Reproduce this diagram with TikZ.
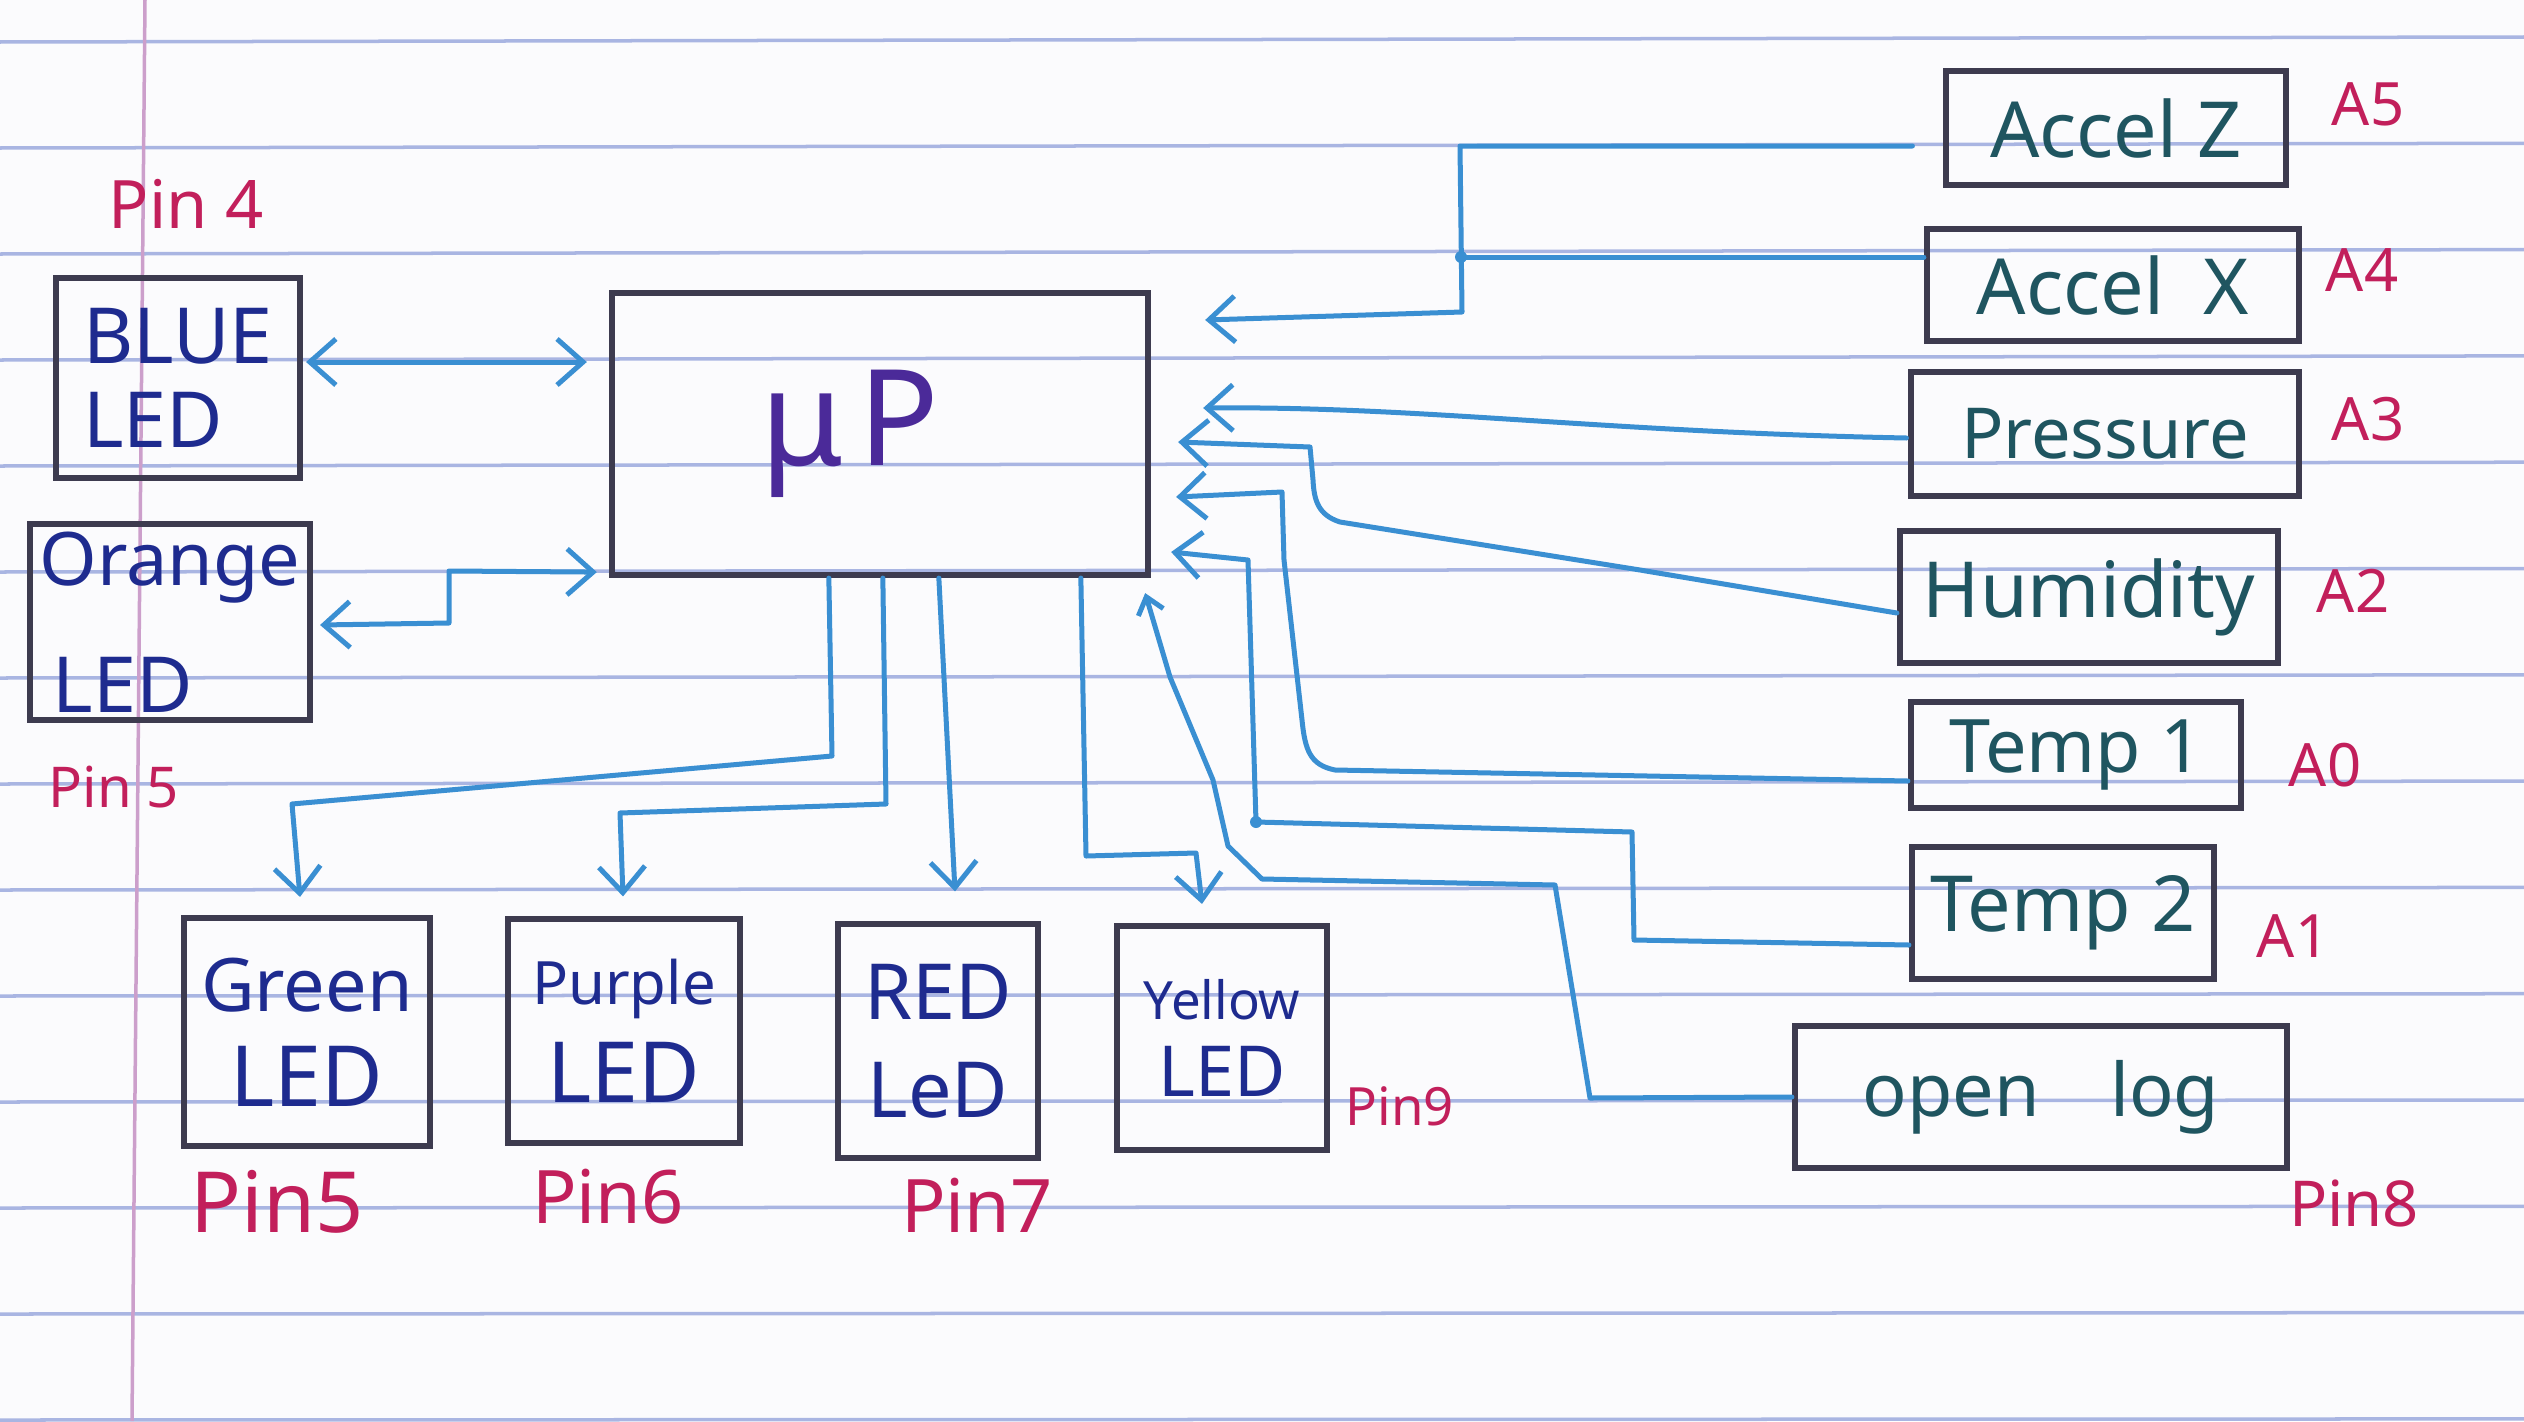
\documentclass[tikz,border=0pt]{standalone}
\usepackage{fontspec}
\setmainfont{Noto Sans}
\usetikzlibrary{arrows.meta,calc}
\definecolor{paperc}{HTML}{FBFBFD}
\definecolor{rulec}{HTML}{A9B5E2}
\definecolor{marginc}{HTML}{CC9FCB}
\definecolor{boxc}{HTML}{3D3B4F}
\definecolor{wirec}{HTML}{3A8FD2}
\definecolor{navyc}{HTML}{1E2B8F}
\definecolor{sensc}{HTML}{1F5560}
\definecolor{upc}{HTML}{4B2A99}
\definecolor{pinc}{HTML}{C21F5B}
\begin{document}
\begin{tikzpicture}[x=0.01cm,y=-0.01cm,
  box/.style={draw=boxc,line width=0.06cm,inner sep=0pt,align=center},
  led/.style={box,text=navyc},
  sens/.style={box,text=sensc,font=\fontsize{22}{26}\selectfont},
  wire/.style={draw=wirec,line width=0.05cm,line join=round,line cap=round},
  fwd/.style={-{Straight Barb[length=0.26cm,width=0.46cm]}},
  fwdsmall/.style={-{Straight Barb[length=0.16cm,width=0.26cm]}},
  both/.style={{Straight Barb[length=0.26cm,width=0.46cm]}-{Straight Barb[length=0.26cm,width=0.46cm]}},
  pinlbl/.style={text=pinc,inner sep=0pt},
  alab/.style={pinlbl,font=\fontsize{17}{20}\selectfont},
  rulel/.style={draw=rulec,line width=0.035cm},
  jdot/.style={fill=wirec}]
\useasboundingbox (0,0) rectangle (2524,1421);
\fill[paperc] (0,0) rectangle (2524,1421);
% ruled paper
\foreach \k in {0,...,13} \draw[rulel] (0,{42+106*\k}) -- (2524,{37+106.3*\k});
\draw[draw=marginc,line width=0.035cm] (145,0) -- (132,1421);

% boxes
\node[led,minimum width=2.44cm,minimum height=2.0cm,align=left,font=\fontsize{22}{24}\selectfont] (blue) at (178,378) {BLUE\\LED};
\node[led,minimum width=2.80cm,minimum height=1.96cm,align=left,font=\fontsize{21}{36}\selectfont] (orange) at (170,622) {Orange\\{\fontsize{22}{26}\selectfont\,LED}};
\node[box,minimum width=5.36cm,minimum height=2.82cm,text=upc,font=\fontsize{38}{44}\selectfont] (mcu) at (880,434) {μ\hspace{0.15cm}P\hspace{0.6cm}};
\node[led,minimum width=2.45cm,minimum height=2.28cm,font=\fontsize{21}{27}\selectfont] (green) at (307,1032) {Green\\{\fontsize{24}{27}\selectfont LED}};
\node[led,minimum width=2.32cm,minimum height=2.23cm,font=\fontsize{17}{28}\selectfont] (purple) at (624,1031) {Purple\\{\fontsize{24}{28}\selectfont LED}};
\node[led,minimum width=2.00cm,minimum height=2.33cm,font=\fontsize{22}{28}\selectfont] (red) at (938,1041) {RED\\LeD};
\node[led,minimum width=2.10cm,minimum height=2.24cm,font=\fontsize{15}{22}\selectfont] (yellow) at (1222,1038) {Yellow\\{\fontsize{20}{22}\selectfont LED}};

\node[sens,minimum width=3.39cm,minimum height=1.13cm] (accz) at (2116,128) {Accel Z};
\node[sens,minimum width=3.72cm,minimum height=1.12cm] (accx) at (2113,285) {Accel\hspace{0.4cm}X};
\node[sens,minimum width=3.87cm,minimum height=1.23cm,font=\fontsize{20}{24}\selectfont] (press) at (2105,434) {Pressure};
\node[sens,minimum width=3.78cm,minimum height=1.32cm] (hum) at (2089,597) {Humidity};
\node[sens,minimum width=3.30cm,minimum height=1.05cm,font=\fontsize{21}{24}\selectfont] (t1) at (2076,755) {Temp 1};
\node[sens,minimum width=3.02cm,minimum height=1.31cm] (t2) at (2063,913) {Temp 2};
\node[sens,minimum width=4.92cm,minimum height=1.41cm,font=\fontsize{21}{24}\selectfont] (ol) at (2041,1097) {open\hspace{0.7cm}log};

% pin labels
\node[pinlbl,font=\fontsize{19}{22}\selectfont] (p4) at (186,204) {Pin 4};
\node[pinlbl,font=\fontsize{16}{19}\selectfont] (p5a) at (114,787) {Pin 5};
\node[pinlbl,font=\fontsize{24}{28}\selectfont] (p5) at (277,1202) {Pin5};
\node[pinlbl,font=\fontsize{21}{26}\selectfont] (p6) at (608,1197) {Pin6};
\node[pinlbl,font=\fontsize{21}{26}\selectfont] (p7) at (977,1205) {Pin7};
\node[pinlbl,font=\fontsize{15}{19}\selectfont] (p9) at (1400,1106) {Pin9};
\node[pinlbl,font=\fontsize{18}{22}\selectfont] (p8) at (2354,1203) {Pin8};
\node[alab] (a5) at (2368,104) {A5};
\node[alab] (a4) at (2362,270) {A4};
\node[alab] (a3) at (2368,419) {A3};
\node[alab] (a2) at (2353,591) {A2};
\node[alab] (a0) at (2325,765) {A0};
\node[alab] (a1) at (2293,936) {A1};

% left connectors
\draw[wire,both] ($(blue.east)+(3,-16)$) -- ($(mcu.west|-blue.east)+(-22,-16)$);
\draw[wire,both] ($(orange.east)+(7,3)$) -- (449,623) -- (449,571) -- ($(mcu.south west)+(-12,-6)$);

% bottom connectors
\draw[wire,fwd] ($(mcu.south west)+(220,0)$) -- (832,756) -- (292,804) -- ($(green.north)+(-7,-18)$);
\draw[wire,fwd] ($(mcu.south west)+(274,0)$) -- (886,804) -- (620,813) -- ($(purple.north)+(-1,-20)$);
\draw[wire,fwd] ($(mcu.south west)+(330,0)$) -- ($(red.north)+(17,-30)$);
\draw[wire,fwd] ($(mcu.south west)+(472,0)$) -- (1086,856) -- (1196,853) -- ($(yellow.north)+(-20,-19)$);

% right connectors
\draw[wire,fwd] ($(accz.west)+(-31,18)$) -- (1460,146) -- (1462,312) -- ($(mcu.east)+(54,-114)$);
\draw[wire] ($(accx.west)+(0,-28)$) -- (1461,257);
\fill[jdot] (1461,257) circle[radius=6];
\draw[wire,fwd] ($(press.west)+(-2,4)$) .. controls (1600,432) and (1420,406) .. ($(mcu.east)+(52,-26)$);
\draw[wire,fwd] ($(hum.west)+(0,16)$) -- (1640,570) -- (1340,522) .. controls (1318,515) and (1314,500) .. (1313,480) -- (1310,447) -- ($(mcu.east)+(27,8)$);
\draw[wire,fwd] ($(t1.west)+(0,26)$) -- (1335,770) .. controls (1310,765) and (1305,750) .. (1302,720) -- (1284,560) -- (1282,492) -- ($(mcu.east)+(25,63)$);
\draw[wire,fwd] ($(t2.west)+(0,32)$) -- (1634,940) -- (1632,832) -- (1256,822) -- (1248,560) -- ($(mcu.east)+(20,118)$);
\fill[jdot] (1256,822) circle[radius=6];
\draw[wire,fwdsmall] (ol.west) -- (1590,1098) -- (1555,885) -- (1262,879) -- (1228,846) -- (1213,780) -- (1170,677) -- ($(mcu.south east)+(-6,15)$);
\end{tikzpicture}
\end{document}
